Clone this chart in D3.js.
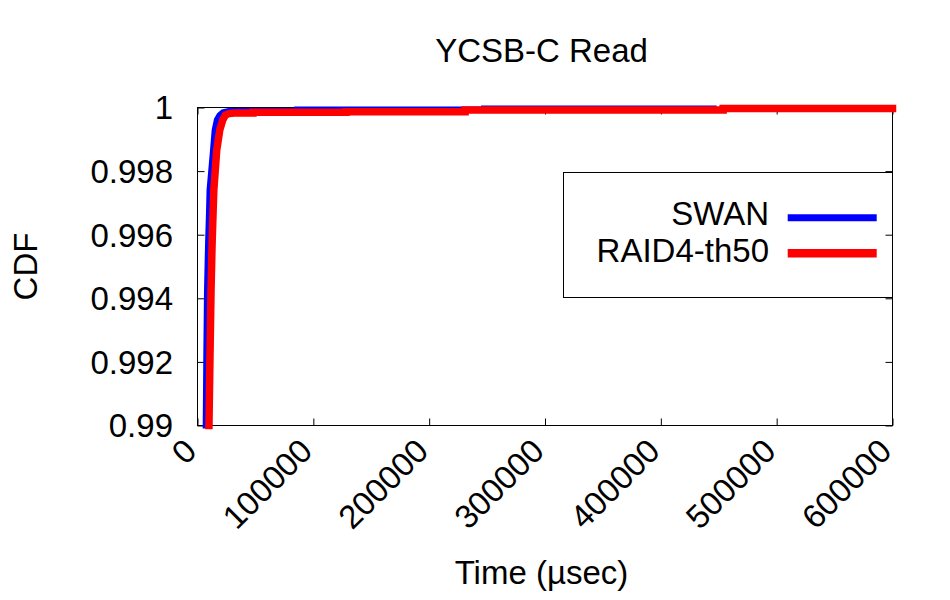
<!DOCTYPE html>
<html>
<head>
<meta charset="utf-8">
<script src="https://cdn.jsdelivr.net/npm/d3@7"></script>
<style>
  body { margin: 0; background: #fff; }
  svg { display: block; }
  text { font-family: "Liberation Sans", Arial, sans-serif; fill: #000; }
</style>
</head>
<body>
<svg id="chart" width="950" height="600"></svg>
<script>
// ---- data ----
const title = "YCSB-C Read";
const xLabel = "Time (\u00b5sec)";
const yLabel = "CDF";

const xTicks = [0, 100000, 200000, 300000, 400000, 500000, 600000];
const xTickLabels = ["0", "100000", "200000", "300000", "400000", "500000", "600000"];
const yTicks = [0.99, 0.992, 0.994, 0.996, 0.998, 1.0];
const yTickLabels = ["0.99", "0.992", "0.994", "0.996", "0.998", "1"];

const seriesNames = ["SWAN", "RAID4-th50"];
const seriesColors = ["#0000ff", "#ff0000"];

// SWAN latency CDF (time in usec, cumulative fraction)
const swanTime = [7080, 7600, 8200, 9100, 9950, 10400, 13400, 14800, 16700, 19000, 22000, 27000, 40000, 86000, 86000, 247400, 247400, 445600];
const swanCdf  = [0.9900, 0.99222, 0.99426, 0.99571, 0.99675, 0.99741, 0.99866, 0.99929, 0.99961, 0.99976, 0.99985, 0.99989, 0.99990, 0.99990, 0.99994, 0.99994, 0.99997, 0.99997];

// RAID4-th50 latency CDF
const raidTime = [9900, 10800, 11700, 12600, 13500, 14100, 16600, 19200, 21800, 24100, 27000, 32000, 47900, 47900, 128200, 128200, 231000, 231000, 453800, 453800, 600000];
const raidCdf  = [0.9900, 0.99222, 0.99426, 0.99571, 0.99675, 0.99741, 0.99866, 0.99929, 0.99961, 0.99976, 0.99981, 0.99983, 0.99983, 0.99985, 0.99985, 0.99987, 0.99987, 0.99992, 0.99992, 0.99997, 0.99997];

// ---- layout ----
const svg = d3.select("#chart");
const L = 197.5, R = 892.5, T = 107.5, B = 425.5;
const FS = 33;

const x = d3.scaleLinear().domain([0, 600000]).range([L, R]);
const y = d3.scaleLinear().domain([0.99, 1.0]).range([B, T]);

// ticks on all four sides (inward), via d3 axes
const tickLen = 7;
const axB = svg.append("g").attr("transform", `translate(0,${B})`)
  .call(d3.axisBottom(x).tickValues(xTicks).tickSizeInner(-tickLen).tickSizeOuter(0).tickFormat(""));
const axT = svg.append("g").attr("transform", `translate(0,${T})`)
  .call(d3.axisTop(x).tickValues(xTicks).tickSizeInner(-tickLen).tickSizeOuter(0).tickFormat(""));
const axL = svg.append("g").attr("transform", `translate(${L},0)`)
  .call(d3.axisLeft(y).tickValues(yTicks).tickSizeInner(-tickLen).tickSizeOuter(0).tickFormat(""));
const axR = svg.append("g").attr("transform", `translate(${R},0)`)
  .call(d3.axisRight(y).tickValues(yTicks).tickSizeInner(-tickLen).tickSizeOuter(0).tickFormat(""));
[axB, axT, axL, axR].forEach(a => {
  a.select(".domain").remove();
  a.selectAll(".tick line").attr("stroke", "#000").attr("stroke-width", 1);
});

// frame
svg.append("rect").attr("x", L).attr("y", T).attr("width", R - L).attr("height", B - T)
  .attr("fill", "none").attr("stroke", "#000").attr("stroke-width", 1);

// y tick labels
svg.append("g").selectAll("text").data(yTicks).join("text")
  .attr("x", 173).attr("y", d => y(d)).attr("dy", "0.36em")
  .attr("text-anchor", "end").attr("font-size", FS)
  .text((d, i) => yTickLabels[i]);

// x tick labels, rotated 45 degrees
svg.append("g").selectAll("text").data(xTicks).join("text")
  .attr("transform", d => `translate(${x(d) + 1},453) rotate(-45)`)
  .attr("text-anchor", "end").attr("font-size", FS)
  .text((d, i) => xTickLabels[i]);

// title and axis labels
svg.append("text").attr("x", 541.5).attr("y", 62).attr("text-anchor", "middle")
  .attr("font-size", FS).text(title);
svg.append("text").attr("x", 541.5).attr("y", 584).attr("text-anchor", "middle")
  .attr("font-size", FS).text(xLabel);
svg.append("text").attr("transform", "translate(37,266.5) rotate(-90)")
  .attr("text-anchor", "middle").attr("font-size", FS).text(yLabel);

// series
const line = d3.line().x(d => x(d[0])).y(d => y(d[1]));
const swanPts = swanTime.map((t, i) => [t, swanCdf[i]]);
const raidPts = raidTime.map((t, i) => [t, raidCdf[i]]);
const widths = [6, 7.5];

[swanPts, raidPts].forEach((pts, i) => {
  svg.append("path").datum(pts).attr("d", line)
    .attr("fill", "none").attr("stroke", seriesColors[i]).attr("stroke-width", widths[i])
    .attr("stroke-linecap", "square").attr("stroke-linejoin", "miter");
});

// legend
const lg = svg.append("g");
lg.append("rect").attr("x", 563.5).attr("y", 172.5).attr("width", R - 563.5).attr("height", 125)
  .attr("fill", "none").attr("stroke", "#000").attr("stroke-width", 1);
const legY = [217.7, 253.3];
const legBase = [225, 261.5];
seriesNames.forEach((n, i) => {
  lg.append("text").attr("x", 769).attr("y", legBase[i]).attr("text-anchor", "end")
    .attr("font-size", FS).text(n);
  lg.append("line").attr("x1", 787.7).attr("x2", 876.7).attr("y1", legY[i]).attr("y2", legY[i])
    .attr("stroke", seriesColors[i]).attr("stroke-width", widths[i] + 1);
});
</script>
</body>
</html>
